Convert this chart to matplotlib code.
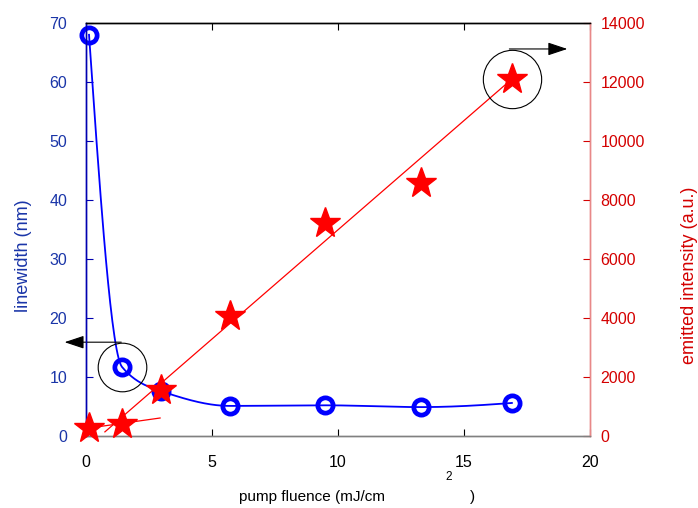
import numpy as np
import matplotlib
matplotlib.use("Agg")
import matplotlib.pyplot as plt

plt.rcParams['font.family'] = ['Liberation Sans', 'DejaVu Sans']
plt.rcParams['font.size'] = 11.5

# ---- data ----
fluence = [0.12, 1.43, 2.98, 5.71, 9.5, 13.3, 16.9]
linewidth = [68.0, 11.7, 7.6, 5.1, 5.2, 4.9, 5.6]
intensity = [270, 410, 1560, 4070, 7220, 8580, 12100]

fit_x = [0.75, 16.9]
fit_y = [140, 12100]
low_fit_x = [0.12, 2.94]
low_fit_y = [270, 610]

x_ticks = [0, 5, 10, 15, 20]
left_ticks = [0, 10, 20, 30, 40, 50, 60, 70]
right_ticks = [0, 2000, 4000, 6000, 8000, 10000, 12000, 14000]

BLUE_TXT = '#1a35a8'
BLUE_SPINE = '#0000b0'
RED_TXT = '#d40000'


def pchip(x, y, xq):
    x = np.asarray(x, float); y = np.asarray(y, float)
    h = np.diff(x); d = np.diff(y) / h
    n = len(x); m = np.zeros(n)
    for k in range(1, n - 1):
        if d[k - 1] * d[k] > 0:
            w1 = 2 * h[k] + h[k - 1]; w2 = h[k] + 2 * h[k - 1]
            m[k] = (w1 + w2) / (w1 / d[k - 1] + w2 / d[k])
    m[0] = ((2 * h[0] + h[1]) * d[0] - h[0] * d[1]) / (h[0] + h[1])
    if np.sign(m[0]) != np.sign(d[0]): m[0] = 0
    m[-1] = ((2 * h[-1] + h[-2]) * d[-1] - h[-1] * d[-2]) / (h[-1] + h[-2])
    if np.sign(m[-1]) != np.sign(d[-1]): m[-1] = 0
    idx = np.clip(np.searchsorted(x, xq) - 1, 0, n - 2)
    t = (xq - x[idx]) / h[idx]
    h00 = 2 * t**3 - 3 * t**2 + 1; h10 = t**3 - 2 * t**2 + t
    h01 = -2 * t**3 + 3 * t**2; h11 = t**3 - t**2
    return h00 * y[idx] + h10 * h[idx] * m[idx] + h01 * y[idx + 1] + h11 * h[idx] * m[idx + 1]


fig = plt.figure(figsize=(6.98, 5.08), dpi=100)
ax = fig.add_axes([86 / 698, 1 - 436 / 508, 504 / 698, 413 / 508])
ax2 = ax.twinx()

# blue curve
xs = np.linspace(fluence[0], fluence[-1], 400)
ax.plot(xs, pchip(fluence, linewidth, xs), color='#0000ff', lw=1.3, zorder=3)
ax.plot(fluence, linewidth, 'o', ms=11, mfc='none', mec='#0000ff', mew=3.4, zorder=4, clip_on=False)

ax.set_xlim(0, 20)
ax.set_ylim(0, 70)
ax2.set_ylim(0, 14000)

# red fit lines and stars
ax2.plot(fit_x, fit_y, color='#ff0000', lw=0.9, zorder=3)
ax2.plot(low_fit_x, low_fit_y, color='#ff0000', lw=0.9, zorder=3)
ax2.plot(fluence, intensity, '*', ms=23, color='#ff0000', mec='#ff0000', zorder=5, clip_on=False)

# annotation circles
ax.plot([fluence[1]], [linewidth[1]], 'o', ms=35, mfc='none', mec='black', mew=0.8, zorder=6)
ax2.plot([fluence[6]], [intensity[6]], 'o', ms=42, mfc='none', mec='black', mew=0.8, zorder=6)

# arrows
ax.annotate('', xy=(-0.85, 15.9), xytext=(1.4, 15.9), annotation_clip=False,
            arrowprops=dict(arrowstyle='-|>,head_length=1.2,head_width=0.4', color='black',
                            lw=0.8, mutation_scale=10, shrinkA=0, shrinkB=0))
ax2.annotate('', xy=(19.1, 13120), xytext=(16.8, 13120), annotation_clip=False,
             arrowprops=dict(arrowstyle='-|>,head_length=1.2,head_width=0.4', color='black',
                             lw=0.8, mutation_scale=10, shrinkA=0, shrinkB=0))

# ticks
ax.set_xticks(x_ticks)
ax.set_yticks(left_ticks)
ax2.set_yticks(right_ticks)
ax.tick_params(axis='x', direction='in', top=True, length=5, width=0.8, colors='black', pad=14, labelsize=11.5)
ax.tick_params(axis='y', direction='in', length=5, width=0.8, color=BLUE_SPINE, labelcolor=BLUE_TXT, pad=13.5, labelsize=11.5)
ax2.tick_params(axis='y', direction='in', length=5, width=0.8, color=RED_TXT, labelcolor=RED_TXT, pad=7.5, labelsize=11.5)

for a in (ax, ax2):
    a.spines['left'].set_color(BLUE_SPINE)
    a.spines['right'].set_color('#e88888')
    a.spines['top'].set_color('black')
    a.spines['bottom'].set_color('#808080')
    for s in a.spines.values():
        s.set_linewidth(1.0)

# y labels (positioned as in reference)
fig.text(24 / 698, 1 - 256 / 508, 'linewidth (nm)', rotation=90, ha='center', va='center',
         color=BLUE_TXT, fontsize=13)
fig.text(690 / 698, 1 - 275 / 508, 'emitted intensity (a.u.)', rotation=90, ha='center', va='center',
         color=RED_TXT, fontsize=13)

# x label (split as in reference)
fig.text(312 / 698, 1 - 497 / 508, 'pump fluence (mJ/cm', ha='center', va='center', fontsize=11)
fig.text(449 / 698, 1 - 477 / 508, '2', ha='center', va='center', fontsize=8.5)
fig.text(473 / 698, 1 - 497 / 508, ')', ha='center', va='center', fontsize=11)

fig.savefig('out.png', dpi=100)
